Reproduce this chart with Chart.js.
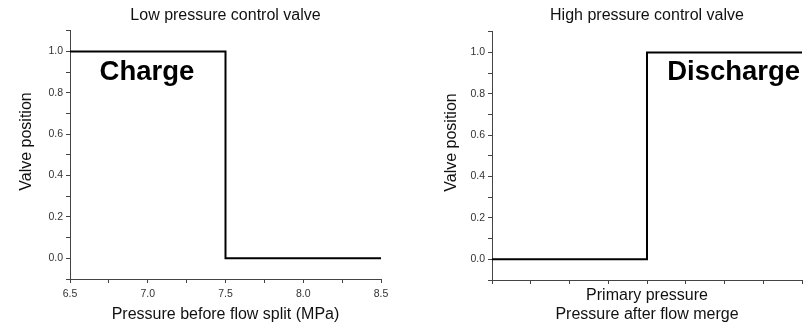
<!DOCTYPE html>
<html>
<head>
<meta charset="utf-8">
<script src="https://cdn.jsdelivr.net/npm/chart.js@4/dist/chart.umd.min.js"></script>
<style>
  html, body { margin: 0; padding: 0; background: #fff; }
  #wrap { position: relative; width: 808px; height: 324px; }
  .cell { position: absolute; top: 0; width: 404px; height: 324px; }
  #c1 { left: 0; }
  #c2 { left: 404px; }
</style>
</head>
<body>
<div id="wrap">
  <div class="cell" id="c1"><canvas id="left" width="404" height="324"></canvas></div>
  <div class="cell" id="c2"><canvas id="right" width="404" height="324"></canvas></div>
</div>
<script>
// ---- Data ----
const lowTitle = 'Low pressure control valve';
const highTitle = 'High pressure control valve';
const lowPressure = [6.5, 7.5, 7.5, 8.5];      // MPa, before flow split
const lowPosition = [1, 1, 0, 0];               // valve position
const highPressure = [0, 4, 4, 8];              // primary pressure (unlabelled units)
const highPosition = [0, 0, 1, 1];              // valve position
const lowXTitle = 'Pressure before flow split (MPa)';
const highXTitle = ['Primary pressure', 'Pressure after flow merge'];
const yTitle = 'Valve position';
const lowLabel = 'Charge';
const highLabel = 'Discharge';

const FONT = "'Liberation Sans', Arial, Helvetica, sans-serif";
const AXIS = '#444';

function pts(xs, ys) { return xs.map((x, i) => ({ x: x, y: ys[i] })); }

const textPlugin = {
  id: 'bigText',
  afterDatasetsDraw(chart, args, opts) {
    const { ctx, scales } = chart;
    const px = scales.x.getPixelForValue(opts.x);
    const py = scales.y.getPixelForValue(opts.y);
    ctx.save();
    ctx.font = 'bold 27.5px ' + FONT;
    ctx.fillStyle = '#000';
    ctx.textAlign = 'left';
    ctx.textBaseline = 'alphabetic';
    ctx.fillText(opts.text, px, py);
    ctx.restore();
  }
};

function yAxis(width) {
  return {
    type: 'linear', min: -0.1, max: 1.1,
    afterFit: s => { s.width = width; },
    border: { display: true, color: AXIS, width: 1 },
    grid: { display: true, drawOnChartArea: false, drawTicks: true, tickLength: 4, color: AXIS },
    ticks: {
      stepSize: 0.1, autoSkip: false, padding: 3,
      color: '#333', font: { family: FONT, size: 10.5 },
      callback: v => { const k = Math.round(v * 10); return (k >= 0 && k <= 10 && k % 2 === 0) ? (k / 10).toFixed(1) : ''; }
    },
    title: { display: true, text: '      ' + yTitle, color: '#111', font: { family: FONT, size: 16 }, padding: 0 }
  };
}

function makeChart(id, cfg) {
  return new Chart(document.getElementById(id), {
    type: 'line',
    data: { datasets: [{ data: cfg.data, borderColor: '#000', borderWidth: 2, pointRadius: 0, tension: 0, fill: false }] },
    options: {
      responsive: false, animation: false, devicePixelRatio: 1,
      layout: { padding: cfg.padding },
      plugins: {
        legend: { display: false }, tooltip: { enabled: false },
        title: {
          display: true, text: cfg.title, fullSize: false, color: '#111',
          font: { family: FONT, size: 16, weight: 'normal' },
          padding: cfg.titlePad
        },
        bigText: cfg.label
      },
      scales: {
        x: cfg.x,
        y: yAxis(cfg.yWidth)
      }
    },
    plugins: [textPlugin]
  });
}

makeChart('left', {
  data: pts(lowPressure, lowPosition),
  title: lowTitle,
  padding: { left: 17, right: 23, top: 0, bottom: 0 },
  titlePad: { top: 6.4, bottom: 5.1 },
  yWidth: 53,
  label: { text: lowLabel, x: 6.69, y: 0.862 },
  x: {
    type: 'linear', min: 6.5, max: 8.5,
    afterFit: s => { s.height = 45; },
    border: { display: true, color: AXIS, width: 1 },
    grid: { display: true, drawOnChartArea: false, drawTicks: true, tickLength: 4, color: AXIS },
    ticks: {
      stepSize: 0.25, autoSkip: false, maxRotation: 0, padding: 5,
      color: '#333', font: { family: FONT, size: 10.5 },
      callback: v => { const k = Math.round(v * 4); return (k % 2 === 0) ? (k / 4).toFixed(1) : ''; }
    },
    title: { display: true, text: lowXTitle, color: '#111', font: { family: FONT, size: 16 }, padding: 0 }
  }
});

makeChart('right', {
  data: pts(highPressure, highPosition),
  title: highTitle,
  padding: { left: 37.6, right: 6, top: 0, bottom: 0 },
  titlePad: { top: 6.4, bottom: 6.1 },
  yWidth: 50.4,
  label: { text: highLabel, x: 4.52, y: 0.867 },
  x: {
    type: 'linear', min: 0, max: 8,
    afterFit: s => { s.height = 44; },
    border: { display: true, color: AXIS, width: 1 },
    grid: { display: true, drawOnChartArea: false, drawTicks: true, tickLength: 4, color: AXIS },
    ticks: {
      stepSize: 1, autoSkip: false, maxRotation: 0, padding: 5,
      color: '#333', font: { family: FONT, size: 10.5 },
      callback: () => ''
    },
    title: { display: true, text: highXTitle, color: '#111', font: { family: FONT, size: 16 }, padding: 0 }
  }
});
</script>
</body>
</html>
